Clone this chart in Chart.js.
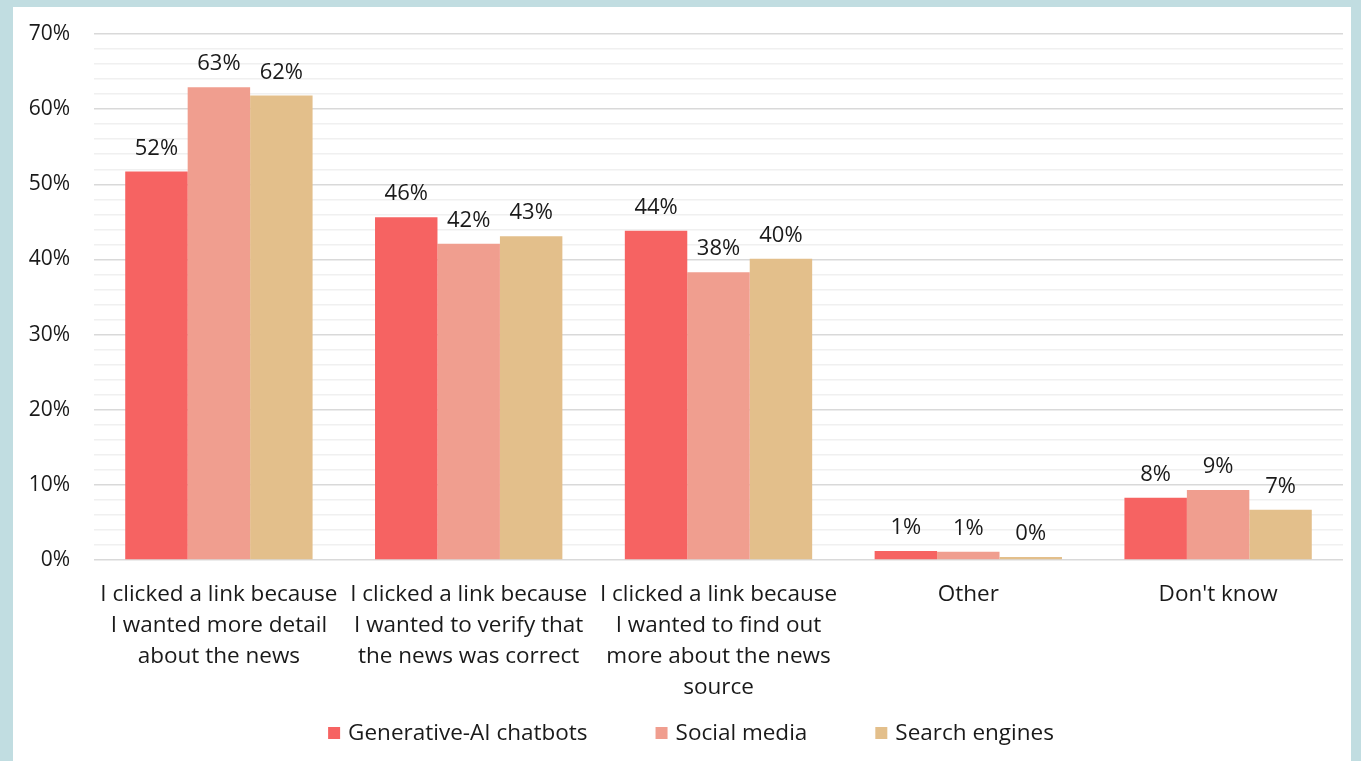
<!DOCTYPE html>
<html>
<head>
<meta charset="utf-8">
<script src="https://cdn.jsdelivr.net/npm/chart.js@4/dist/chart.umd.min.js"></script>
<style>
  html, body { margin: 0; padding: 0; background: #c1dde1; }
  #wrap { position: absolute; left: 13px; top: 7px; width: 1338px; height: 754px; background: #fff; }
</style>
</head>
<body>
<div id="wrap"><canvas id="chart"></canvas></div>
<script>
const categories = [
  ['I clicked a link because', 'I wanted more detail', 'about the news'],
  ['I clicked a link because', 'I wanted to verify that', 'the news was correct'],
  ['I clicked a link because', 'I wanted to find out', 'more about the news', 'source'],
  'Other',
  "Don't know"
];
const seriesNames = ['Generative-AI chatbots', 'Social media', 'Search engines'];
const genAI = [51.7, 45.6, 43.8, 1.2, 8.3];
const social = [62.9, 42.1, 38.3, 1.1, 9.3];
const search = [61.8, 43.1, 40.1, 0.4, 6.7];
const colors = ['#f66362', '#f09e8f', '#e3bf8b'];

const FONT = "'Open Sans', 'Noto Sans', sans-serif";
const TEXT = '#1a1a1a';

// value labels above each bar
const barLabels = {
  id: 'barLabels',
  afterDatasetsDraw(chart) {
    const ctx = chart.ctx;
    ctx.save();
    ctx.font = '22px ' + FONT;
    ctx.fillStyle = TEXT;
    ctx.textAlign = 'center';
    ctx.textBaseline = 'alphabetic';
    chart.data.datasets.forEach((ds, i) => {
      chart.getDatasetMeta(i).data.forEach((bar, j) => {
        ctx.fillText(Math.round(ds.data[j]) + '%', bar.x, bar.y - 17);
      });
    });
    ctx.restore();
  }
};

// legend drawn at the bottom with wide spacing
const bottomLegend = {
  id: 'bottomLegend',
  afterDraw(chart) {
    const ctx = chart.ctx;
    ctx.save();
    ctx.font = '22.5px ' + FONT;
    ctx.textBaseline = 'middle';
    const box = 12, gap = 8, spacing = 68;
    const items = chart.data.datasets.map(ds => ({
      text: ds.label, color: ds.backgroundColor, w: box + gap + ctx.measureText(ds.label).width
    }));
    const total = items.reduce((s, it) => s + it.w, 0) + spacing * (items.length - 1);
    let x = chart.width / 2 + 9 - total / 2;
    const y = 726;
    items.forEach(it => {
      ctx.fillStyle = it.color;
      ctx.fillRect(x, y - box / 2, box, box);
      ctx.fillStyle = TEXT;
      ctx.fillText(it.text, x + box + gap, y + 1);
      x += it.w + spacing;
    });
    ctx.restore();
  }
};

new Chart(document.getElementById('chart'), {
  type: 'bar',
  data: {
    labels: categories,
    datasets: [
      { label: seriesNames[0], data: genAI, backgroundColor: colors[0] },
      { label: seriesNames[1], data: social, backgroundColor: colors[1] },
      { label: seriesNames[2], data: search, backgroundColor: colors[2] }
    ]
  },
  options: {
    responsive: true,
    maintainAspectRatio: false,
    animation: false,
    datasets: { bar: { categoryPercentage: 0.75, barPercentage: 1.0, borderWidth: 0 } },
    layout: { padding: { top: 27, right: 8, bottom: 51, left: 0 } },
    plugins: {
      legend: { display: false },
      tooltip: { enabled: false }
    },
    scales: {
      x: {
        grid: { display: false, drawTicks: false },
        border: { display: false },
        ticks: {
          color: TEXT,
          font: { family: FONT, size: 22.5, lineHeight: 31 / 22.5 },
          padding: 19,
          maxRotation: 0,
          autoSkip: false
        },
        afterFit(scale) { scale.height = 150; }
      },
      y: {
        min: 0,
        max: 70,
        border: { display: false },
        grid: {
          drawTicks: false,
          lineWidth: 1.5,
          color: c => (c.tick.value % 10 === 0 ? '#d9d9d9' : '#f0f0f0')
        },
        ticks: {
          stepSize: 2,
          color: TEXT,
          padding: 24,
          font: { family: FONT, size: 21 },
          autoSkip: false,
          callback: v => (v % 10 === 0 ? v + '%' : '')
        },
        afterFit(scale) {
          scale.width = 81;
          scale.paddingTop = 10;
          scale.paddingBottom = 10;
        }
      }
    }
  },
  plugins: [barLabels, bottomLegend]
});
</script>
</body>
</html>
